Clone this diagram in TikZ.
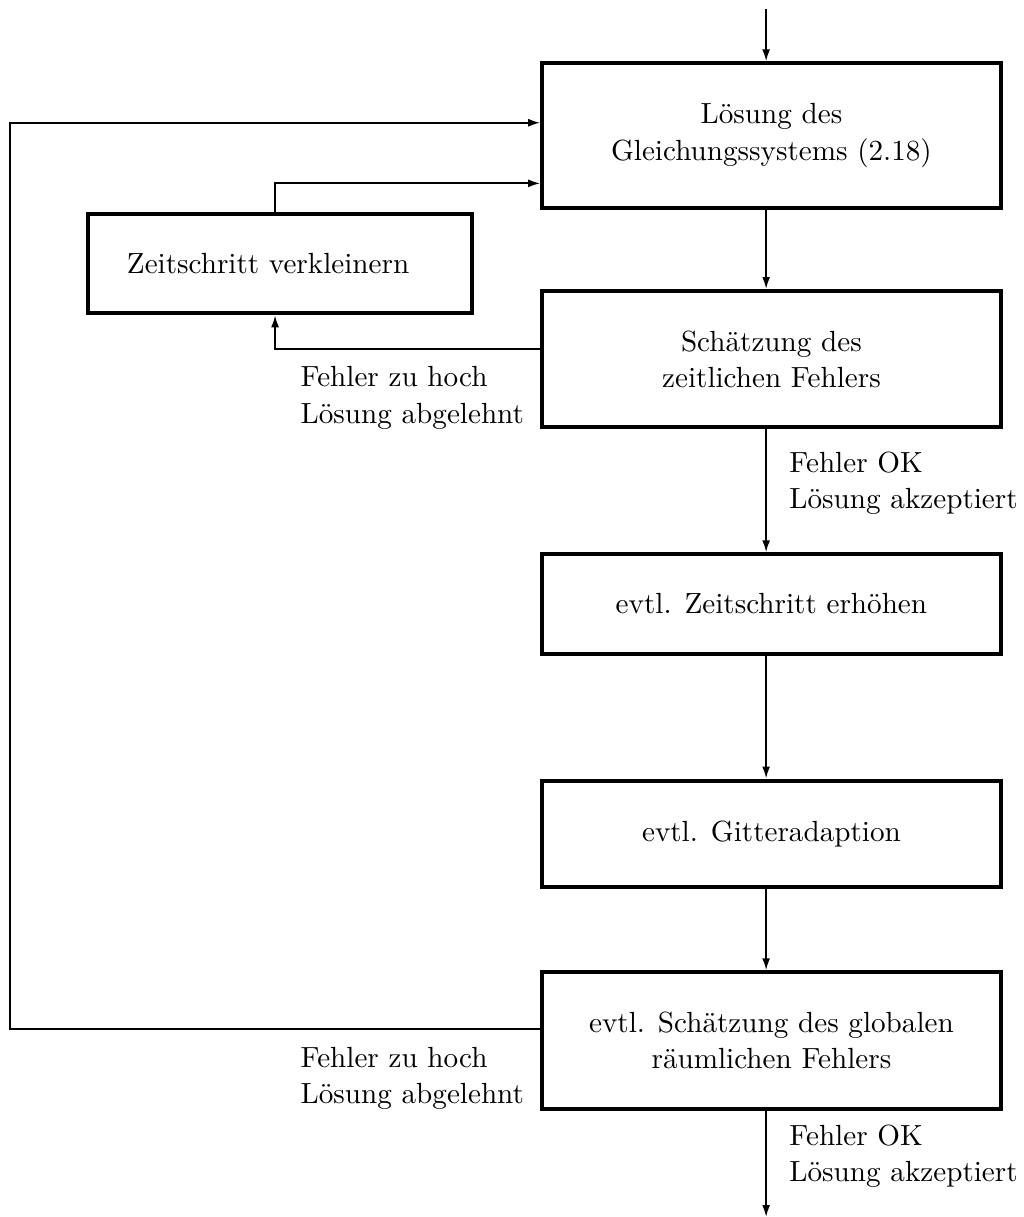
\documentclass[tikz,border=0pt]{standalone}
\usepackage{tikz}
\usetikzlibrary{arrows.meta}

\tikzset{
  block/.style={draw, line width=1.5pt, minimum width=6.05cm, align=center},
  flow/.style={-{Latex[length=4.5pt,width=3pt]}, line width=0.7pt},
  note/.style={align=left, anchor=west, inner sep=0pt}
}

\begin{document}
\begin{tikzpicture}[font=\fontsize{10.95pt}{13.6pt}\selectfont]
  \useasboundingbox (0,0) rectangle (13.5,-16.06);

  % Ablauf der Schritte
  \node[block, minimum height=1.91cm] (loesung) at (10.18,-1.79) {Lösung des\\Gleichungssystems (2.18)};
  \node[block, minimum width=5.07cm, minimum height=1.31cm, text width=4.05cm, inner xsep=0.5cm, align=left] (verkleinern) at (3.70,-3.48) {Zeitschritt verkleinern};
  \node[block, minimum height=1.80cm] (fehlerzeit) at (10.18,-4.74) {Schätzung des\\zeitlichen Fehlers};
  \node[block, minimum height=1.31cm] (erhoehen) at (10.18,-7.97) {evtl. Zeitschritt erhöhen};
  \node[block, minimum height=1.40cm] (gitter) at (10.18,-11.00) {evtl. Gitteradaption};
  \node[block, minimum height=1.80cm] (fehlerraum) at (10.18,-13.73) {evtl. Schätzung des globalen\\räumlichen Fehlers};

  \node[note] (hochzeit) at (3.96,-5.25) {Fehler zu hoch\\Lösung abgelehnt};
  \node[note] (okzeit) at (10.41,-6.38) {Fehler OK\\Lösung akzeptiert};
  \node[note] (hochraum) at (3.96,-14.23) {Fehler zu hoch\\Lösung abgelehnt};
  \node[note] (okraum) at (10.41,-15.26) {Fehler OK\\Lösung akzeptiert};

  \coordinate (achse) at (10.11,0);
  \coordinate (zweig) at (3.63,0);
  \coordinate (start) at (10.11,-0.12);
  \coordinate (ende) at (10.11,-16.06);
  \coordinate (links) at (0.13,-1.62);

  \draw[flow] (start) -- (loesung.north-|achse);
  \draw[flow] (loesung.south-|achse) -- (fehlerzeit.north-|achse);
  \draw[flow] (fehlerzeit.south-|achse) -- (erhoehen.north-|achse);
  \draw[flow] (erhoehen.south-|achse) -- (gitter.north-|achse);
  \draw[flow] (gitter.south-|achse) -- (fehlerraum.north-|achse);
  \draw[flow] (fehlerraum.south-|achse) -- (ende);

  % Rueckfuehrungen
  \draw[flow] (fehlerzeit.west|-0,-4.61) -| (verkleinern.south-|zweig);
  \draw[flow] (verkleinern.north-|zweig) |- (loesung.west|-0,-2.42);
  \draw[flow] (fehlerraum.west|-0,-13.58) -| (links) -- (loesung.west|-links);
\end{tikzpicture}
\end{document}
